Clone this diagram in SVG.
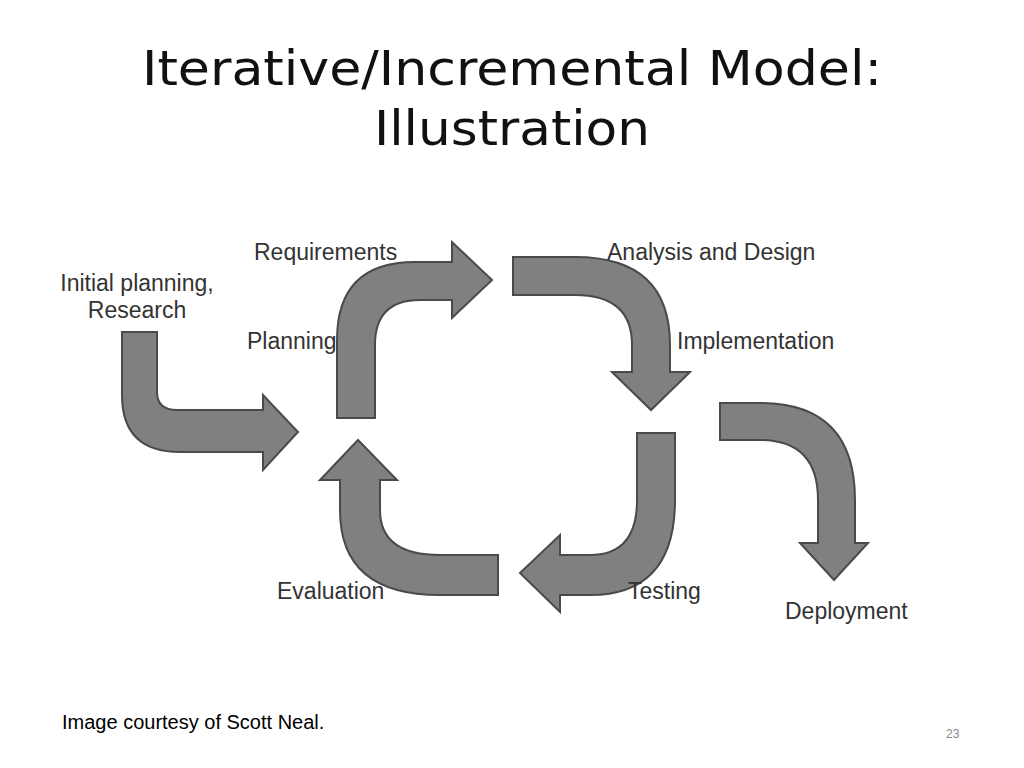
<svg xmlns="http://www.w3.org/2000/svg" width="1024" height="768" viewBox="0 0 1024 768">
<style>
.a{fill:#808080;stroke:#4a4a4a;stroke-width:2}
.l{font-family:"Liberation Sans",Arial,sans-serif;font-size:23px;fill:#333}
.t{font-family:"DejaVu Sans",sans-serif;font-size:48px;fill:#111;text-anchor:middle}
</style>
<rect width="1024" height="768" fill="#fff"/>
<text class="t" x="512" y="85" textLength="740" lengthAdjust="spacingAndGlyphs">Iterative/Incremental Model:</text>
<text class="t" x="512" y="145" textLength="276" lengthAdjust="spacingAndGlyphs">Illustration</text>
<g id="connectors">
<path class="a" d="M122,332 L157,332 L157,392 Q157,410 177,410 L263,410 L263,395 L298,432 L263,470 L263,452 L180,452 Q122,452 122,395 Z"/>
<path class="a" d="M337,418 L337,340 Q337,262 415,262 L452,262 L452,242 L492,280 L452,318 L452,300 L420,300 Q375,300 375,345 L375,418 Z"/>
<path class="a" d="M513,257 L575,257 Q670,257 670,345 L670,372 L690,372 L651,410 L612,372 L632,372 L632,345 Q632,295 575,295 L513,295 Z"/>
<path class="a" d="M675,433 L675,500 Q675,595 590,595 L560,595 L560,612 L520,573 L560,535 L560,555 L590,555 Q637,555 637,500 L637,433 Z"/>
<path class="a" d="M498,555 L440,555 Q380,555 380,510 L380,480 L397,480 L358,440 L320,480 L340,480 L340,510 Q340,595 440,595 L498,595 Z"/>
<path class="a" d="M720,403 L760,403 Q855,403 855,500 L855,543 L868,543 L834,580 L800,543 L818,543 L818,500 Q818,440 760,440 L720,440 Z"/>
</g>
<g id="n-initial"><text class="l" x="137" y="291" text-anchor="middle">Initial planning,</text><text class="l" x="137" y="318" text-anchor="middle">Research</text></g>
<g id="n-requirements"><text class="l" x="254" y="260">Requirements</text></g>
<g id="n-planning"><text class="l" x="247" y="349">Planning</text></g>
<g id="n-analysis"><text class="l" x="607" y="260">Analysis and Design</text></g>
<g id="n-implementation"><text class="l" x="677" y="349">Implementation</text></g>
<g id="n-testing"><text class="l" x="628" y="599">Testing</text></g>
<g id="n-evaluation"><text class="l" x="277" y="599">Evaluation</text></g>
<g id="n-deployment"><text class="l" x="785" y="619">Deployment</text></g>
<text x="62" y="729" font-family="Liberation Sans,Arial,sans-serif" font-size="20" fill="#000">Image courtesy of Scott Neal.</text>
<text x="946" y="738" font-family="Liberation Sans,Arial,sans-serif" font-size="12" fill="#888">23</text>
</svg>
